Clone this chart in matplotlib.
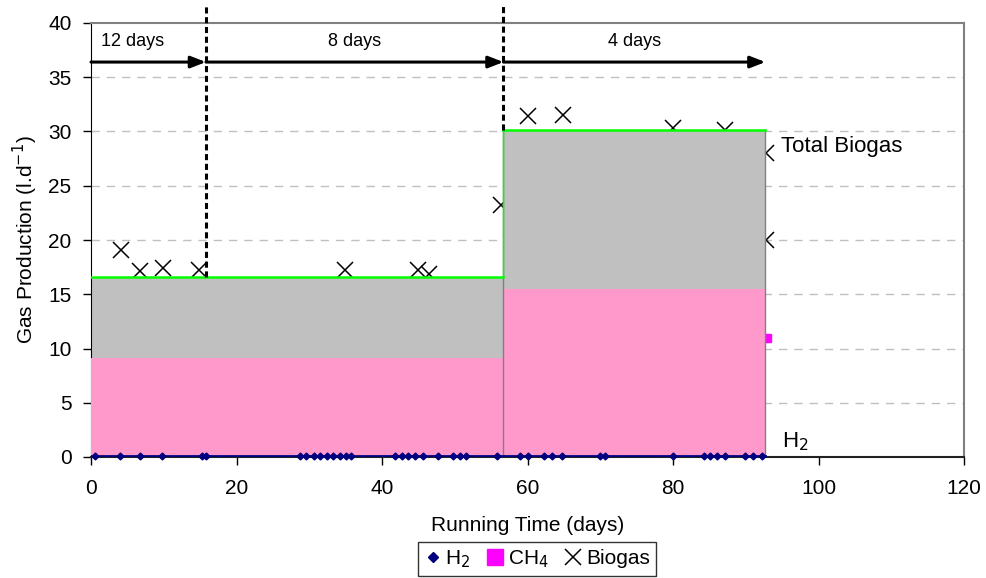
import matplotlib.pyplot as plt
from matplotlib.lines import Line2D

plt.rcParams['font.family'] = ['Liberation Sans', 'DejaVu Sans']

# fases del reactor (dias)
fase_x = [0, 56.7, 92.7]
biogas_total = [16.6, 30.15, 30.15]
ch4_nivel = [9.1, 15.45, 15.45]
cambios = [15.8, 56.7]
cambio_nivel = [16.6, 30.15]

# mediciones puntuales
biogas_t = [4.1, 6.7, 9.9, 14.8, 34.9, 45.0, 46.4, 56.4, 60.0, 64.9, 80.0, 87.1, 92.8, 92.8]
biogas_v = [19.1, 17.1, 17.4, 17.2, 17.2, 17.2, 16.9, 23.2, 31.4, 31.5, 30.3, 30.1, 28.0, 20.0]
ch4_t = [92.9]
ch4_v = [11.0]
h2_t = [0.5, 4.0, 6.7, 9.7, 15.2, 15.8, 28.7, 29.6, 30.6, 31.5, 32.4, 33.3, 34.2, 35.1, 35.8,
        41.8, 42.7, 43.6, 44.5, 45.7, 47.7, 49.8, 50.7, 51.6, 55.8, 59.0, 60.1, 62.2, 63.3,
        64.7, 70.0, 70.6, 80.0, 84.2, 85.1, 86.0, 87.1, 89.9, 91.0, 92.2]
h2_v = [0.05] * len(h2_t)

etapas = ['12 days', '8 days', '4 days']
etapa_x = [0, 15.8, 56.7, 92.7]

fig = plt.figure(figsize=(9.86, 5.78), dpi=100)
ax = fig.add_axes([91/986, 1-457/578, (964-91)/986, (457-23)/578])

# puntos medidos (debajo de las areas)
ax.plot(biogas_t, biogas_v, linestyle='none', marker='x', color='black', markersize=11,
        markeredgewidth=1.1, zorder=1)
ax.plot(ch4_t, ch4_v, linestyle='none', marker='s', color='#ff00ff', markersize=6, zorder=1)

# areas
ax.fill_between(fase_x, 0, biogas_total, step='post', color='#c0c0c0', linewidth=0, zorder=2)
ax.fill_between(fase_x, 0, ch4_nivel, step='post', color='#ff99cc', linewidth=0, zorder=3)
for xv in fase_x[1:]:
    ax.plot([xv, xv], [0, biogas_total[-1]], color='#808080', linewidth=1, zorder=4)
ax.plot([fase_x[1], fase_x[1]], [biogas_total[0], biogas_total[1]], color='#00ff00',
        linewidth=1, zorder=4)
ax.plot([fase_x[0], fase_x[1]], [biogas_total[0], biogas_total[0]], color='#00ff00',
        linewidth=1.8, zorder=4)
ax.plot([fase_x[1], fase_x[2]], [biogas_total[1], biogas_total[2]], color='#00ff00',
        linewidth=1.8, zorder=4)

# H2
ax.plot([fase_x[0], fase_x[-1]], [0.05, 0.05], color='#000080', linewidth=2, zorder=5)
ax.plot(h2_t, h2_v, linestyle='none', marker='D', color='#000080', markersize=3.5, zorder=5,
        clip_on=False)

# lineas de cambio de TRH
for xc, yc in zip(cambios, cambio_nivel):
    ax.plot([xc, xc], [yc, 41.6], color='black', linestyle=(0, (2, 1.2)), linewidth=2.2,
            clip_on=False, zorder=6)

# flechas
for i in range(3):
    ax.annotate('', xy=(etapa_x[i+1], 36.4), xytext=(etapa_x[i], 36.4),
                arrowprops=dict(arrowstyle='-|>,head_length=0.9,head_width=0.35',
                                color='black', linewidth=2.2, shrinkA=0, shrinkB=0), zorder=7)
    xm = (etapa_x[i] + etapa_x[i+1]) / 2
    if i == 0:
        xm = 5.75
    ax.text(xm, 38.3, etapas[i], ha='center', va='center', fontsize=13)

ax.text(94.8, 28.6, 'Total Biogas', fontsize=16, va='center', ha='left')
ax.text(95.0, 1.4, 'H$_2$', fontsize=16, va='center', ha='left')

ax.set_xlim(0, 120)
ax.set_ylim(0, 40)
ax.set_xticks(range(0, 121, 20))
ax.set_yticks(range(0, 41, 5))
ax.tick_params(axis='both', direction='out', length=6, labelsize=15, width=1)
ax.tick_params(axis='y', pad=8)
ax.tick_params(axis='x', pad=10)

for yv in range(5, 40, 5):
    ax.axhline(yv, color='#c0c0c0', linewidth=1, linestyle=(0, (6, 5)), zorder=0)

ax.spines['top'].set_color('#808080')
ax.spines['right'].set_color('#808080')
ax.spines['top'].set_linewidth(1.5)
ax.spines['right'].set_linewidth(1.5)
ax.spines['left'].set_color('black')
ax.spines['bottom'].set_color('#222222')
ax.spines['bottom'].set_linewidth(1.5)

ax.set_xlabel('Running Time (days)', fontsize=15, labelpad=13)
ax.set_ylabel('Gas Production (l.d$^{-1}$)', fontsize=15, labelpad=6)

handles = [
    Line2D([], [], linestyle='none', marker='D', color='#000080', markersize=5),
    Line2D([], [], linestyle='none', marker='s', color='#ff00ff', markersize=12),
    Line2D([], [], linestyle='none', marker='x', color='black', markersize=12, markeredgewidth=1.1),
]
leg = fig.legend(handles, ['H$_2$', 'CH$_4$', 'Biogas'], loc='upper center',
                 bbox_to_anchor=(537/986, 1-542/578), ncol=3, fontsize=15, frameon=True,
                 fancybox=False, handlelength=0.8, handletextpad=0.2, columnspacing=0.8,
                 borderpad=0.3, borderaxespad=0)
leg.get_frame().set_edgecolor('black')
leg.get_frame().set_linewidth(1)

fig.savefig('out.png', dpi=100)
